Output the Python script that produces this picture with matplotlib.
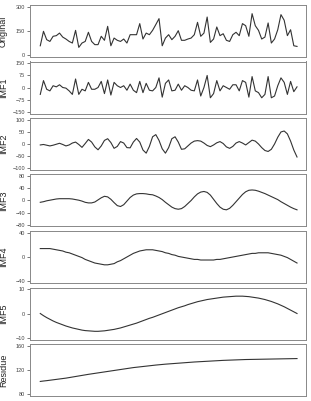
import numpy as np
import matplotlib.pyplot as plt

plt.rcParams['font.family'] = ['Liberation Sans', 'DejaVu Sans']

# series (81 samples each)
original = [58, 148, 96, 85, 117, 121, 137, 112, 100, 85, 75, 154, 48, 75, 85, 142,
            85, 65, 65, 117, 92, 179, 58, 106, 92, 85, 100, 75, 127, 127, 127, 196,
            100, 137, 127, 154, 190, 227, 58, 106, 127, 96, 117, 152, 92, 92, 100, 106,
            127, 204, 117, 137, 237, 79, 100, 175, 121, 133, 92, 85, 127, 142, 121, 196,
            183, 117, 258, 183, 154, 100, 112, 200, 75, 100, 158, 252, 217, 121, 158, 58, 54]

imf1 = [-43, 43, -11, -21, 11, 4, 17, 0, -4, -21, -43, 53, -43, -11, -21, 32,
        -11, -11, 0, 38, -38, 47, -47, 32, 11, 0, 11, -17, 21, -17, -32, 38,
        -32, 26, -17, -21, 0, 60, -60, 26, 47, -21, -17, 21, -17, 11, 0, -17,
        -21, 47, -53, 0, 75, -64, -38, 43, -21, 11, 0, -11, 17, 17, -21, 43,
        32, -60, 68, -21, -32, -64, -43, 68, -64, -53, 11, 60, 32, -43, 38, -26, 4]

imf2 = [-4, -2, -5, -8, -5, -1, 3, -2, -8, -4, 4, 8, -2, -14, 2, 19,
        8, -12, -24, -8, 15, 22, 6, -18, -10, 10, 4, -15, -16, 8, 23, 8,
        -25, -38, -10, 30, 39, 15, -20, -38, -15, 22, 30, 8, -22, -20, -8, 4,
        12, 14, 12, 4, -6, -11, -4, 5, 10, 2, -12, -18, -10, 4, 10, 4,
        -4, 6, 16, 12, 0, -15, -27, -31, -22, 0, 28, 50, 54, 42, 12, -25, -54]

imf3 = [-6, -4, -1, 1, 3, 5, 6, 6, 6, 6, 5, 3, 1, -2, -6, -8,
        -8, -5, 2, 9, 14, 12, 4, -7, -17, -20, -14, -2, 10, 18, 22, 23,
        23, 22, 20, 19, 15, 10, 3, -6, -14, -22, -27, -29, -27, -20, -10, 0,
        12, 22, 28, 30, 27, 18, 4, -10, -22, -29, -31, -26, -16, -4, 8, 20,
        29, 34, 35, 34, 31, 27, 23, 18, 13, 8, 3, -4, -10, -16, -22, -27, -31]

imf4 = [14, 14, 14, 14, 13, 12, 11, 10, 8, 7, 5, 3, 1, -1, -4, -6,
        -8, -10, -11, -12, -13, -13, -12, -11, -8, -6, -3, 0, 3, 6, 8, 10,
        11, 12, 12, 12, 11, 10, 9, 7, 6, 4, 3, 1, 0, -1, -2, -3,
        -4, -4, -5, -5, -5, -5, -5, -4, -4, -3, -2, -1, 0, 1, 2, 3,
        4, 5, 6, 6, 7, 7, 7, 7, 6, 5, 4, 3, 1, -1, -4, -7, -10]

imf5 = [0, -0.9, -1.7, -2.4, -3.1, -3.7, -4.2, -4.7, -5.2, -5.6, -6.0, -6.3, -6.6, -6.9, -7.1, -7.2,
        -7.3, -7.4, -7.4, -7.3, -7.2, -7.0, -6.8, -6.6, -6.3, -6.0, -5.6, -5.2, -4.8, -4.4, -4.0, -3.5,
        -3.0, -2.5, -2.0, -1.6, -1.1, -0.6, -0.1, 0.4, 0.9, 1.4, 1.9, 2.4, 2.8, 3.2, 3.7, 4.1,
        4.5, 4.9, 5.2, 5.5, 5.8, 6.0, 6.2, 6.4, 6.6, 6.8, 6.9, 7.0, 7.1, 7.2, 7.2, 7.2,
        7.1, 7.0, 6.8, 6.6, 6.4, 6.1, 5.8, 5.4, 5.0, 4.5, 4.0, 3.4, 2.8, 2.1, 1.4, 0.7, 0.0]

residue = [101, 101.7, 102.3, 103, 103.7, 104.4, 105.1, 105.8, 106.5, 107.4, 108.3, 109.2, 110.1, 111, 111.9, 112.8,
           113.6, 114.4, 115.2, 116, 116.8, 117.6, 118.4, 119.2, 120, 120.8, 121.6, 122.4, 123.2, 124, 124.6, 125.2,
           125.8, 126.4, 127, 127.6, 128.2, 128.7, 129.2, 129.7, 130.1, 130.5, 130.9, 131.3, 131.7, 132.1, 132.5, 132.9,
           133.3, 133.6, 133.9, 134.2, 134.5, 134.8, 135.1, 135.4, 135.7, 136, 136.2, 136.4, 136.6, 136.8, 137, 137.2,
           137.4, 137.5, 137.6, 137.7, 137.8, 137.9, 138, 138.1, 138.2, 138.3, 138.4, 138.5, 138.6, 138.7, 138.8, 138.9, 139]

names = ["Original", "IMF1", "IMF2", "IMF3", "IMF4", "IMF5", "Residue"]
series = [original, imf1, imf2, imf3, imf4, imf5, residue]
ticks = [[0, 150, 300], [-150, -75, 0, 75, 150], [-100, -50, 0, 50, 100],
         [-80, -40, 0, 40, 80], [-40, 0, 40], [-10, 0, 10], [80, 120, 160]]

W, H = 311, 401
fig = plt.figure(figsize=(W / 100, H / 100), dpi=100)

for k, (name, y, tk) in enumerate(zip(names, series, ticks)):
    top = 5 + 56.5 * k
    ax = fig.add_axes([30 / W, 1 - (top + 52) / H, 276 / W, 52 / H])
    t = np.arange(len(y))
    ax.plot(t, y, color="#333333", lw=0.8)
    pad = 0.04 * (tk[-1] - tk[0])
    ax.set_ylim(tk[0] - pad, tk[-1] + pad)
    ax.set_xlim(-3.2, len(y) + 1.8)
    ax.set_xticks([])
    ax.set_yticks(tk)
    ax.tick_params(axis="y", length=2.5, width=0.5, pad=1, labelsize=4,
                   colors="#444444")
    for s in ax.spines.values():
        s.set_color("#888888")
        s.set_linewidth(0.7)
    ax.set_ylabel(name, fontsize=6.5, color="#222222")
    ax.yaxis.set_label_coords(-0.08, 0.5)

fig.savefig("out.png", dpi=100)
